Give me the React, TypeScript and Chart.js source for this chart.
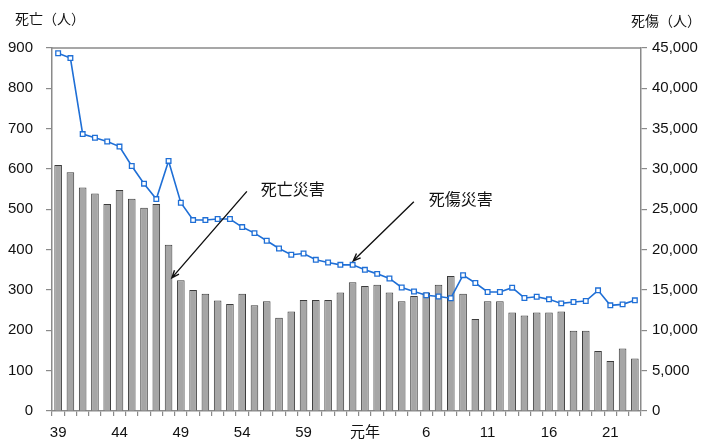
import React, { useEffect, useRef } from 'react';
import { Chart, registerables } from 'chart.js';

Chart.register(...registerables);

// Years: Showa 39 … 63, Heisei 元年 … 23
const categories = [
  '39', '40', '41', '42', '43', '44', '45', '46', '47', '48', '49', '50', '51', '52', '53',
  '54', '55', '56', '57', '58', '59', '60', '61', '62', '63',
  '元年', '2', '3', '4', '5', '6', '7', '8', '9', '10', '11', '12', '13', '14', '15',
  '16', '17', '18', '19', '20', '21', '22', '23',
];

// 死亡災害 (left axis, persons)
const deaths = [
  610, 592, 554, 539, 513, 548, 526, 504, 513, 412,
  324, 300, 291, 274, 265, 291, 262, 272, 231, 247,
  275, 275, 275, 294, 319, 310, 313, 294, 272, 285,
  294, 313, 335, 291, 228, 272, 272, 244, 237, 244,
  244, 247, 199, 199, 149, 124, 155, 130,
];

// 死傷災害 (right axis, persons)
const casualties = [
  44350, 43750, 34330, 33870, 33410, 32780, 30370, 28180, 26270, 31000,
  25820, 23670, 23670, 23800, 23800, 22800, 22050, 21100, 20150, 19370,
  19530, 18740, 18410, 18120, 18120, 17500, 17000, 16430, 15310, 14810,
  14350, 14190, 13980, 16840, 15870, 14750, 14750, 15290, 14010, 14170,
  13840, 13340, 13510, 13630, 14960, 13100, 13220, 13720,
];

// Every fifth year carries a label
const labelEvery = 5;

const leftTitle = '死亡（人）';
const rightTitle = '死傷（人）';
const deathNote = '死亡災害';
const casualtyNote = '死傷災害';

const FONT = "'Liberation Sans', Arial, 'Noto Sans CJK JP', sans-serif";
const JP_FONT = "'Noto Sans CJK JP', 'Noto Sans CJK SC', sans-serif";
const AXIS_COLOR = '#8a8a8a';
const TEXT_COLOR = '#111111';

function drawArrow(ctx: CanvasRenderingContext2D, x1: number, y1: number, x2: number, y2: number) {
  const ang = Math.atan2(y2 - y1, x2 - x1);
  const head = 8;
  const spread = 0.38;
  ctx.beginPath();
  ctx.moveTo(x1, y1);
  ctx.lineTo(x2, y2);
  ctx.moveTo(x2 - head * Math.cos(ang - spread), y2 - head * Math.sin(ang - spread));
  ctx.lineTo(x2, y2);
  ctx.lineTo(x2 - head * Math.cos(ang + spread), y2 - head * Math.sin(ang + spread));
  ctx.stroke();
}

const overlay = {
  id: 'overlay',
  afterDraw(chart: any) {
    const { ctx, chartArea, scales } = chart;
    ctx.save();

    // top edge of the plot frame
    ctx.strokeStyle = AXIS_COLOR;
    ctx.lineWidth = 1.5;
    ctx.beginPath();
    ctx.moveTo(chartArea.left, chartArea.top);
    ctx.lineTo(chartArea.right, chartArea.top);
    ctx.stroke();

    // axis titles
    ctx.fillStyle = TEXT_COLOR;
    ctx.font = `14px ${JP_FONT}`;
    ctx.textBaseline = 'middle';
    ctx.textAlign = 'left';
    ctx.fillText(leftTitle, 15, 19);
    ctx.textAlign = 'right';
    ctx.fillText(rightTitle, 701, 21);

    // callouts
    ctx.strokeStyle = '#111111';
    ctx.lineWidth = 1.4;
    ctx.font = `16px ${JP_FONT}`;
    ctx.textAlign = 'left';

    const t1x = scales.x.getPixelForValue(9) + 3.3;
    const t1y = scales.y.getPixelForValue(330);
    const s1x = t1x + 75;
    const s1y = t1y - 86.5;
    drawArrow(ctx, s1x, s1y, t1x, t1y);
    ctx.fillText(deathNote, s1x + 14, s1y - 2.5);

    const t2x = scales.x.getPixelForValue(24) + 0.6;
    const t2y = scales.y1.getPixelForValue(casualties[24]) - 4;
    const s2x = t2x + 60.6;
    const s2y = t2y - 59;
    drawArrow(ctx, s2x, s2y, t2x, t2y);
    ctx.fillText(casualtyNote, s2x + 15, s2y - 2.5);

    ctx.restore();
  },
};

export default function App() {
  const canvasRef = useRef<HTMLCanvasElement | null>(null);

  useEffect(() => {
    const canvas = canvasRef.current;
    if (!canvas) return;
    const tickFont = { family: FONT, size: 15 };

    const chart = new Chart(canvas, {
      type: 'bar',
      data: {
        labels: categories,
        datasets: [
          {
            type: 'line',
            label: casualtyNote,
            data: casualties,
            yAxisID: 'y1',
            order: 0,
            borderColor: '#1f6fd6',
            borderWidth: 1.6,
            tension: 0,
            pointStyle: 'rect',
            pointRadius: 3.3,
            pointBorderWidth: 1.3,
            pointBackgroundColor: '#ffffff',
            pointBorderColor: '#1f6fd6',
          } as any,
          {
            type: 'bar',
            label: deathNote,
            data: deaths,
            yAxisID: 'y',
            order: 1,
            backgroundColor: '#a6a6a6',
            borderColor: '#3c3c3c',
            borderWidth: 1,
            barPercentage: 0.62,
            categoryPercentage: 1,
          },
        ],
      },
      options: {
        responsive: false,
        animation: false,
        devicePixelRatio: 1,
        layout: { padding: { top: 48, left: 0, right: 0, bottom: 0 } },
        plugins: {
          legend: { display: false },
          tooltip: { enabled: false },
        },
        scales: {
          x: {
            offset: true,
            grid: {
              offset: true,
              drawOnChartArea: false,
              drawTicks: true,
              tickLength: 5,
              color: AXIS_COLOR,
              lineWidth: 1.2,
            },
            border: { display: true, color: AXIS_COLOR, width: 1.5 },
            ticks: {
              autoSkip: false,
              maxRotation: 0,
              minRotation: 0,
              padding: 8,
              color: TEXT_COLOR,
              font: tickFont,
              callback: (_v: any, i: number) => (i % labelEvery === 0 ? categories[i] : ''),
            },
            afterFit: (s: any) => {
              s.height = 31;
            },
          },
          y: {
            position: 'left',
            min: 0,
            max: 900,
            grid: {
              drawOnChartArea: false,
              drawTicks: true,
              tickLength: 6,
              color: AXIS_COLOR,
              lineWidth: 1.2,
            },
            border: { display: true, color: AXIS_COLOR, width: 1.5 },
            ticks: {
              stepSize: 100,
              padding: 13,
              color: TEXT_COLOR,
              font: tickFont,
            },
            afterFit: (s: any) => {
              s.width = 52;
            },
          },
          y1: {
            position: 'right',
            min: 0,
            max: 45000,
            grid: {
              drawOnChartArea: false,
              drawTicks: true,
              tickLength: 6,
              color: AXIS_COLOR,
              lineWidth: 1.2,
            },
            border: { display: true, color: AXIS_COLOR, width: 1.5 },
            ticks: {
              stepSize: 5000,
              padding: 5,
              color: TEXT_COLOR,
              font: tickFont,
              callback: (v: any) => Number(v).toLocaleString('en-US'),
            },
            afterFit: (s: any) => {
              s.width = 61;
            },
          },
        },
      },
      plugins: [overlay],
    });

    return () => chart.destroy();
  }, []);

  return (
    <div style={{ position: 'absolute', left: 0, top: 0, width: 702, height: 442, background: '#ffffff' }}>
      <canvas ref={canvasRef} width={702} height={442} style={{ display: 'block' }} />
    </div>
  );
}
